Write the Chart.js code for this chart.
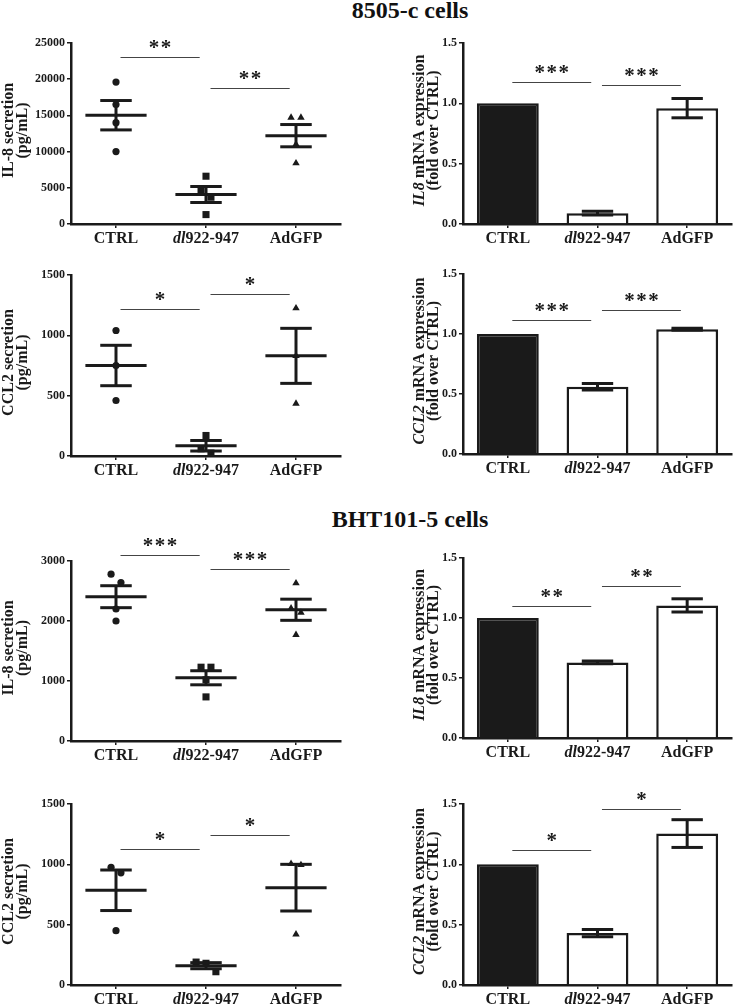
<!DOCTYPE html>
<html>
<head>
<meta charset="utf-8">
<script src="https://cdn.jsdelivr.net/npm/chart.js@4.4.0/dist/chart.umd.min.js"></script>
<style>
  body { margin: 0; background: #fff; }
  #wrap { position: relative; width: 736px; height: 1006px; overflow: hidden; }
  #wrap canvas { position: absolute; }
  .title { position: absolute; left: 260px; width: 300px; text-align: center;
           font: bold 24px/24px "Liberation Serif", serif; color: #111; }
</style>
</head>
<body>
<div id="wrap">
  <div class="title" style="top:-2px">8505-c cells</div>
  <div class="title" style="top:507px">BHT101-5 cells</div>
</div>
<script>
// groups (the _x_ part is italic)
const groups = ['CTRL', '_dl_922-947', 'AdGFP'];

// 8505-c cells
const il8Sec8505 = [[19600, 16500, 14000, 10000], [6600, 4700, 3700, 1300], [14700, 14700, 11000, 8400]];
const il8Sec8505Ticks = [0, 5000, 10000, 15000, 20000, 25000];
const il8Sec8505Sig = [[0, 1, 23070, '**'], [1, 2, 18780, '**']];

const il8Mrna8505 = [1.0, 0.09, 0.96];
const il8Mrna8505Sem = [0, 0.015, 0.08];
const il8Mrna8505Sig = [[0, 1, 1.18, '***'], [1, 2, 1.15, '***']];

const ccl2Sec8505 = [[1040, 750, 460], [170, 60, 25], [1225, 830, 435]];
const ccl2Sec8505Ticks = [0, 500, 1000, 1500];
const ccl2Sec8505Sig = [[0, 1, 1216, '*'], [1, 2, 1342, '*']];

const ccl2Mrna8505 = [1.0, 0.56, 1.04];
const ccl2Mrna8505Sem = [0, 0.027, 0.008];
const ccl2Mrna8505Sig = [[0, 1, 1.12, '***'], [1, 2, 1.2, '***']];

// BHT101-5 cells
const il8SecBht = [[2780, 2640, 2200, 2000], [1230, 1230, 1020, 735], [2630, 2210, 2140, 1770]];
const il8SecBhtTicks = [0, 1000, 2000, 3000];
const il8SecBhtSig = [[0, 1, 3095, '***'], [1, 2, 2861, '***']];

const il8MrnaBht = [1.0, 0.63, 1.105];
const il8MrnaBhtSem = [0, 0.012, 0.055];
const il8MrnaBhtSig = [[0, 1, 1.1, '**'], [1, 2, 1.27, '**']];

const ccl2SecBht = [[975, 930, 450], [190, 180, 110], [1005, 995, 420]];
const ccl2SecBhtTicks = [0, 500, 1000, 1500];
const ccl2SecBhtSig = [[0, 1, 1124, '*'], [1, 2, 1240, '*']];

const ccl2MrnaBht = [1.0, 0.43, 1.255];
const ccl2MrnaBhtSem = [0, 0.03, 0.115];
const ccl2MrnaBhtSig = [[0, 1, 1.12, '*'], [1, 2, 1.46, '*']];

const mrnaTicks = [0, 0.5, 1.0, 1.5];

const INK = '#1a1a1a';
const SERIF = '"Liberation Serif", "DejaVu Serif", serif';
const markers = ['circle', 'rect', 'triangle'];
const markerSize = [3.6, 5, 4.3];

function fontOf(italic, size) {
    return (italic ? 'italic ' : '') + 'bold ' + size + 'px ' + SERIF;
}

// "_IL8_ mRNA" -> [['IL8', true], [' mRNA', false]]
function splitParts(str) {
    return str.split('_').map((t, i) => [t, i % 2 === 1]).filter(p => p[0].length);
}

function drawParts(ctx, str, cx, cy, size) {
    const parts = splitParts(str);
    let w = 0;
    parts.forEach(p => { ctx.font = fontOf(p[1], size); w += ctx.measureText(p[0]).width; });
    let x = cx - w / 2;
    ctx.textAlign = 'left';
    ctx.textBaseline = 'middle';
    parts.forEach(p => {
        ctx.font = fontOf(p[1], size);
        ctx.fillText(p[0], x, cy);
        x += ctx.measureText(p[0]).width;
    });
}

// spread points that sit on top of each other
function jitter(values, ymax) {
    const order = values.map((v, i) => i).sort((a, b) => values[b] - values[a]);
    const off = values.map(() => 0);
    let cluster = [order[0]];
    const flush = () => {
        cluster.forEach((idx, k) => { off[idx] = (k - (cluster.length - 1) / 2) * 0.11; });
    };
    for (let k = 1; k < order.length; k++) {
        if (values[order[k - 1]] - values[order[k]] < ymax * 0.05) {
            cluster.push(order[k]);
        } else {
            flush();
            cluster = [order[k]];
        }
    }
    flush();
    return off;
}

function meanSem(values) {
    const n = values.length;
    const m = values.reduce((a, b) => a + b, 0) / n;
    const sd = Math.sqrt(values.reduce((a, b) => a + (b - m) * (b - m), 0) / (n - 1));
    return [m, sd / Math.sqrt(n)];
}

const panels = [
    { kind: 'scatter', side: 0, top: 43, h: 181, points: il8Sec8505, ticks: il8Sec8505Ticks, sig: il8Sec8505Sig, title: ['IL-8 secretion', '(pg/mL)'] },
    { kind: 'bar', side: 1, top: 43, h: 181, means: il8Mrna8505, sem: il8Mrna8505Sem, ticks: mrnaTicks, sig: il8Mrna8505Sig, title: ['_IL8_ mRNA expression', '(fold over CTRL)'] },
    { kind: 'scatter', side: 0, top: 275, h: 181, points: ccl2Sec8505, ticks: ccl2Sec8505Ticks, sig: ccl2Sec8505Sig, title: ['CCL2 secretion', '(pg/mL)'] },
    { kind: 'bar', side: 1, top: 274, h: 180, means: ccl2Mrna8505, sem: ccl2Mrna8505Sem, ticks: mrnaTicks, sig: ccl2Mrna8505Sig, title: ['_CCL2_ mRNA expression', '(fold over CTRL)'] },
    { kind: 'scatter', side: 0, top: 561, h: 180, points: il8SecBht, ticks: il8SecBhtTicks, sig: il8SecBhtSig, title: ['IL-8 secretion', '(pg/mL)'] },
    { kind: 'bar', side: 1, top: 558, h: 180, means: il8MrnaBht, sem: il8MrnaBhtSem, ticks: mrnaTicks, sig: il8MrnaBhtSig, title: ['_IL8_ mRNA expression', '(fold over CTRL)'] },
    { kind: 'scatter', side: 0, top: 804, h: 181, points: ccl2SecBht, ticks: ccl2SecBhtTicks, sig: ccl2SecBhtSig, title: ['CCL2 secretion', '(pg/mL)'] },
    { kind: 'bar', side: 1, top: 804, h: 181, means: ccl2MrnaBht, sem: ccl2MrnaBhtSem, ticks: mrnaTicks, sig: ccl2MrnaBhtSig, title: ['_CCL2_ mRNA expression', '(fold over CTRL)'] }
];

function makePanel(p) {
    const wrap = document.getElementById('wrap');
    const padTop = 40, axisH = 30;
    const left = p.side === 0;
    const yW = left ? 71 : 95;
    const padRight = left ? 27 : 4;
    const titleX = left ? [-62, -48] : [-43, -29];
    const ymax = p.ticks[p.ticks.length - 1];
    const dec = ymax < 10;

    const cv = document.createElement('canvas');
    cv.width = 368;
    cv.height = padTop + p.h + axisH;
    cv.style.left = (left ? 0 : 368) + 'px';
    cv.style.top = (p.top - padTop) + 'px';
    wrap.appendChild(cv);

    let datasets;
    if (p.kind === 'scatter') {
        datasets = p.points.map((vals, g) => {
            const off = jitter(vals, ymax);
            return {
                data: vals.map((v, i) => ({ x: g + off[i], y: v })),
                pointStyle: markers[g],
                pointRadius: markerSize[g],
                pointBackgroundColor: INK,
                pointBorderWidth: 0,
                clip: false
            };
        });
    } else {
        datasets = [{
            data: p.means,
            backgroundColor: p.means.map((v, i) => i === 0 ? INK : '#fff'),
            borderColor: INK,
            borderWidth: 2.5,
            borderSkipped: 'start',
            barPercentage: 0.69,
            categoryPercentage: 1
        }];
    }

    const xScale = p.kind === 'scatter'
        ? { type: 'linear', min: -0.5, max: 2.5,
            afterBuildTicks: s => { s.ticks = [0, 1, 2].map(v => ({ value: v })); } }
        : { type: 'category', offset: true };
    Object.assign(xScale, {
        z: 1,
        ticks: { display: false },
        grid: { display: true, drawOnChartArea: false, offset: false, tickLength: 4, lineWidth: 1.5, color: INK },
        border: { display: true, width: 2.5, color: INK },
        afterFit: s => { s.height = axisH; }
    });

    const decor = {
        id: 'decor',
        afterDatasetsDraw(chart) {
            const ctx = chart.ctx, x = chart.scales.x, y = chart.scales.y;
            const step = x.getPixelForValue(1) - x.getPixelForValue(0);
            ctx.save();
            ctx.strokeStyle = INK;
            ctx.lineWidth = 3;
            ctx.lineCap = 'butt';
            const seg = (x1, y1, x2, y2) => {
                ctx.beginPath(); ctx.moveTo(x1, y1); ctx.lineTo(x2, y2); ctx.stroke();
            };
            for (let g = 0; g < 3; g++) {
                let m, e;
                if (p.kind === 'scatter') {
                    [m, e] = meanSem(p.points[g]);
                } else {
                    m = p.means[g]; e = p.sem[g];
                    if (!e) continue;
                }
                const cx = x.getPixelForValue(g);
                const yt = y.getPixelForValue(m + e), yb = y.getPixelForValue(m - e);
                const cap = 0.175 * step;
                seg(cx, yt, cx, yb);
                seg(cx - cap, yt, cx + cap, yt);
                seg(cx - cap, yb, cx + cap, yb);
                if (p.kind === 'scatter') {
                    const ym = y.getPixelForValue(m);
                    seg(cx - 0.34 * step, ym, cx + 0.34 * step, ym);
                }
            }
            ctx.restore();
        },
        afterDraw(chart) {
            const ctx = chart.ctx, x = chart.scales.x, y = chart.scales.y, area = chart.chartArea;
            ctx.save();
            ctx.fillStyle = INK;
            // significance lines
            p.sig.forEach(([a, b, v, stars]) => {
                const x1 = x.getPixelForValue(a + 0.05), x2 = x.getPixelForValue(b - 0.07);
                const yy = Math.round(y.getPixelForValue(v)) + 0.5;
                ctx.strokeStyle = '#444';
                ctx.lineWidth = 1;
                ctx.beginPath(); ctx.moveTo(x1, yy); ctx.lineTo(x2, yy); ctx.stroke();
                ctx.font = fontOf(false, 21);
                ctx.textAlign = 'center';
                ctx.textBaseline = 'alphabetic';
                const cx = (x1 + x2) / 2;
                for (let k = 0; k < stars.length; k++) {
                    ctx.fillText('*', cx + (k - (stars.length - 1) / 2) * 12, yy - 4);
                }
            });
            // category labels
            groups.forEach((g, i) => drawParts(ctx, g, x.getPixelForValue(i), area.bottom + 15, 16));
            // y axis title
            const midY = (area.top + area.bottom) / 2 - 3;
            p.title.forEach((line, i) => {
                ctx.save();
                ctx.translate(area.left + titleX[i], midY);
                ctx.rotate(-Math.PI / 2);
                drawParts(ctx, line, 0, 0, 16);
                ctx.restore();
            });
            ctx.restore();
        }
    };

    new Chart(cv, {
        type: p.kind,
        data: { labels: groups, datasets: datasets },
        options: {
            responsive: false,
            animation: false,
            devicePixelRatio: 1,
            layout: { padding: { top: padTop, right: padRight, left: 0, bottom: 0 } },
            plugins: { legend: { display: false }, tooltip: { enabled: false } },
            scales: {
                x: xScale,
                y: {
                    min: 0, max: ymax,
                    afterBuildTicks: s => { s.ticks = p.ticks.map(v => ({ value: v })); },
                    ticks: {
                        color: INK, padding: 2,
                        font: { family: SERIF, size: 12, weight: 'bold' },
                        callback: v => dec ? v.toFixed(1) : String(v)
                    },
                    grid: { display: true, drawOnChartArea: false, tickLength: 4, lineWidth: 1.5, color: INK },
                    border: { display: true, width: 2.5, color: INK },
                    afterFit: s => { s.width = yW; }
                }
            }
        },
        plugins: [decor]
    });
}

document.addEventListener('DOMContentLoaded', function () {
    panels.forEach(makePanel);
});
</script>
</body>
</html>
